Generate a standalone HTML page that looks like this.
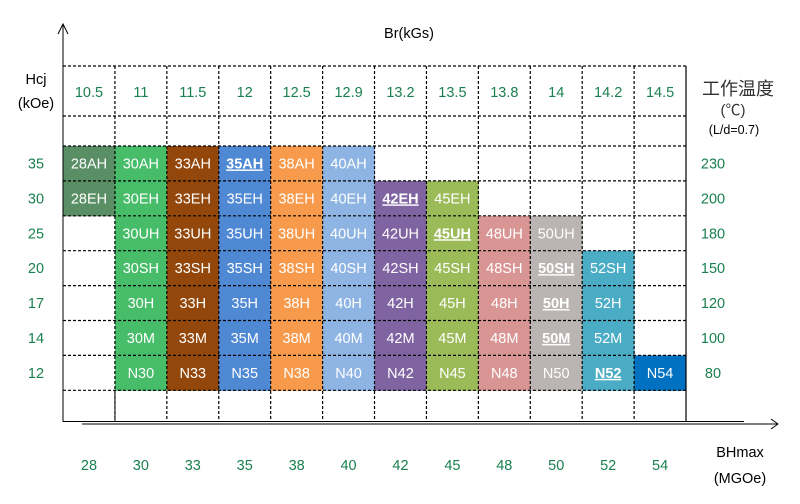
<!DOCTYPE html>
<html><head><meta charset="utf-8"><style>
body{margin:0;background:#fff;width:800px;height:499px;overflow:hidden}
svg{font-family:"Liberation Sans","Noto Sans CJK SC",sans-serif}
</style></head><body>
<svg id="chart" width="800" height="499" viewBox="0 0 800 499" xmlns="http://www.w3.org/2000/svg">
<g id="cells"></g><g id="grid"></g><g id="labels"></g>
</svg>
<script>
const brValues=["10.5","11","11.5","12","12.5","12.9","13.2","13.5","13.8","14","14.2","14.5"];
const bhValues=["28","30","33","35","38","40","42","45","48","50","52","54"];
const hcjValues=["35","30","25","20","17","14","12"];
const tempValues=["230","200","180","150","120","100","80"];
const suffixes=["AH","EH","UH","SH","H","M","N"];
const colors=["#5a8f66","#47bd6a","#93470a","#4f88d3","#f79a4c","#8eb4e3","#8064a2","#9bbb59","#d99594","#bab4b3","#4bacc6","#0070c0"];
const firstRow=[0,0,0,0,0,0,1,1,2,2,3,6];
const lastRow=[1,6,6,6,6,6,6,6,6,6,6,6];
const boldGrades=["35AH","42EH","45UH","50SH","50H","50M","N52"];
const NS="http://www.w3.org/2000/svg";
const x0=63,cw=51.92,rowTop=146,rh=34.9;
const colX=i=>x0+i*cw, rowY=j=>rowTop+j*rh;
function mk(tag,attrs,parent,text){const e=document.createElementNS(NS,tag);for(const k in attrs)e.setAttribute(k,attrs[k]);if(text!==undefined)e.textContent=text;parent.appendChild(e);return e;}
const cells=document.getElementById('cells'),grid=document.getElementById('grid'),labels=document.getElementById('labels');
bhValues.forEach((bh,i)=>{
  for(let j=firstRow[i];j<=lastRow[i];j++){
    const name=suffixes[j]==="N"?"N"+bh:bh+suffixes[j];
    const r=mk('rect',{x:colX(i),y:rowY(j),width:cw+0.5,height:rh+0.5,fill:colors[i]},cells);
    
    
    const bold=boldGrades.includes(name);
    const t=mk('text',{x:colX(i)+cw/2,y:rowY(j)+rh/2+5,'text-anchor':'middle','font-size':'14.5',fill:'#fff','font-weight':bold?'bold':'normal','text-decoration':bold?'underline':'none'},cells,name);
    
    
  }
});
const hy=[66,116,rowTop];for(let j=1;j<=7;j++)hy.push(rowY(j));
hy.forEach(y=>{const l=mk('line',{x1:x0,x2:686,y1:y,y2:y,stroke:'#000','stroke-dasharray':'3,2','stroke-width':1.2},grid);});
for(let i=1;i<12;i++){const l=mk('line',{x1:colX(i),x2:colX(i),y1:66,y2:422,stroke:'#000','stroke-dasharray':'3,2','stroke-width':1.2},grid);}
mk('line',{x1:115,x2:115,y1:rowY(7),y2:422,stroke:'#000','stroke-width':1},grid);
mk('line',{x1:686,x2:686,y1:66,y2:422,stroke:'#000','stroke-width':1.2},grid);
mk('line',{x1:63,x2:744,y1:421.5,y2:421.5,stroke:'#000','stroke-width':1},grid);
const ya=mk('path',{d:'M63,422 V24 M58,34 L63,24 L68,34',stroke:'#000',fill:'none','stroke-width':1},grid);

const xa=mk('path',{d:'M82,424 H778 M771,419 L778,424 L771,429',stroke:'#000',fill:'none','stroke-width':1},grid);

const G='#1a8050';
brValues.forEach((v,i)=>{const t=mk('text',{x:colX(i)+cw/2,y:97,'text-anchor':'middle','font-size':'14.5',fill:G},labels,v);});
bhValues.forEach((v,i)=>{const t=mk('text',{x:colX(i)+cw/2,y:470,'text-anchor':'middle','font-size':'14.5',fill:G},labels,v);});
hcjValues.forEach((v,j)=>{const t=mk('text',{x:36,y:rowY(j)+rh/2+5,'text-anchor':'middle','font-size':'14.5',fill:G},labels,v);});
tempValues.forEach((v,j)=>{const t=mk('text',{x:713,y:rowY(j)+rh/2+5,'text-anchor':'middle','font-size':'14.5',fill:G},labels,v);});
</script>
<svg style="position:absolute;left:0;top:0" width="800" height="499" xmlns="http://www.w3.org/2000/svg" font-family="'Liberation Sans','Noto Sans CJK SC',sans-serif">
<text x="409" y="38" text-anchor="middle" font-size="14.5">Br(kGs)</text>
<text x="36" y="84" text-anchor="middle" font-size="14.5">Hcj</text>
<text x="36" y="108" text-anchor="middle" font-size="14.5">(kOe)</text>
<text x="738" y="95" text-anchor="middle" font-size="18" fill="#333">工作温度</text>
<text x="733" y="115" text-anchor="middle" font-size="15" fill="#333">(℃)</text>
<text x="734" y="134" text-anchor="middle" font-size="12.5">(L/d=0.7)</text>
<text x="740" y="457" text-anchor="middle" font-size="14.5">BHmax</text>
<text x="740" y="483" text-anchor="middle" font-size="14.5">(MGOe)</text>
</svg>
</body></html>
